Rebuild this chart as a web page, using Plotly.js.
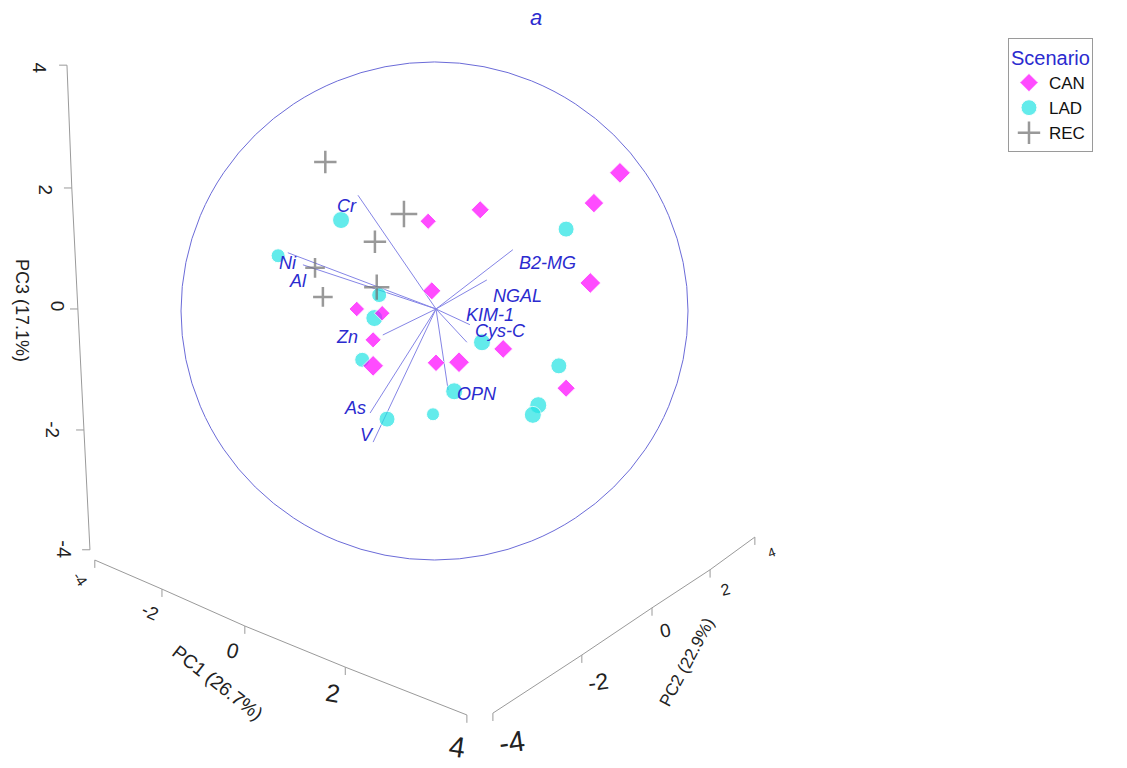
<!DOCTYPE html>
<html><head><meta charset="utf-8">
<script src="https://cdn.plot.ly/plotly-3.0.1.min.js"></script>
<style>html,body{margin:0;padding:0;background:#fff}#chart{width:1127px;height:768px}</style>
</head><body><div id="chart"></div>
<script>
// ---- Data: scores projected onto the viewing plane (1 unit = 1 PC3 unit) ----
const scenarios = ["CAN", "LAD", "REC"];

const canX = [3.04, 2.61, 0.73, -0.13, 2.55, -0.07, -1.31, -0.89, -1.04, -1.04, 0.00, 0.38, 1.11, 2.15];
const canY = [2.25, 1.75, 1.64, 1.45, 0.43, 0.30, 0.00, -0.07, -0.51, -0.94, -0.89, -0.88, -0.66, -1.31];
const canDepth = [16, 15, 14, 12.5, 16, 14, 12, 12, 12.5, 16, 13.5, 16, 14.5, 14];

const ladX = [2.15, -1.57, -2.61, -0.94, -1.02, -1.22, 0.76, 2.03, 0.30, -0.05, 1.69, 1.60, -0.81];
const ladY = [1.32, 1.47, 0.88, 0.23, -0.15, -0.84, -0.55, -0.94, -1.36, -1.74, -1.59, -1.75, -1.82];
const ladDepth = [16, 17, 14, 15, 17, 15, 17, 16, 17, 13, 17, 17, 16];

const recX = [-1.83, -0.53, -1.01, -2.00, -1.87, -0.98];
const recY = [2.43, 1.57, 1.11, 0.68, 0.20, 0.36];
const recDepth = [16, 19, 16, 14, 14, 18];

// Variable loadings (projected end points of the vectors)
const loadNames = ["Cr", "Ni", "Al", "Zn", "As", "V", "OPN", "B2-MG", "NGAL", "KIM-1", "Cys-C"];
const loadX = [-1.29, -2.45, -2.20, -0.88, -1.09, -1.04, 0.20, 1.27, 0.84, 0.56, 0.51];
const loadY = [1.88, 0.93, 0.73, -0.43, -1.72, -2.20, -1.34, 0.98, 0.48, -0.26, -0.55];
const labelX = [-1.47, -2.45, -2.28, -1.47, -1.34, -1.14, 0.68, 1.85, 1.34, 0.89, 1.07];
const labelY = [1.70, 0.76, 0.46, -0.46, -1.64, -2.08, -1.40, 0.76, 0.21, -0.10, -0.37];

// Axis frame (perspective box edges) with tick labels
const tickLabels = ["4", "2", "0", "-2", "-4"];
const pc3X = [-6.10, -6.02, -5.92, -5.82, -5.72];
const pc3Y = [4.03, 2.00, 0.00, -2.00, -3.98];
const pc1Labels = ["-4", "-2", "0", "2", "4"];
const pc1X = [-5.64, -4.53, -3.16, -1.50, 0.51];
const pc1Y = [-4.15, -4.63, -5.24, -5.92, -6.71];
const pc2Labels = ["-4", "-2", "0", "2", "4"];
const pc2X = [0.94, 2.41, 3.57, 4.53, 5.27];
const pc2Y = [-6.68, -5.72, -4.94, -4.31, -3.77];

const pc3LabX = [-6.55, -6.46, -6.26, -6.35, -6.15];
const pc3LabY = [3.98, 1.97, 0.05, -2.00, -3.97];
const pc1LabX = [-5.88, -4.73, -3.36, -1.70, 0.35];
const pc1LabY = [-4.45, -5.01, -5.64, -6.35, -7.24];
const pc2LabX = [1.26, 2.68, 3.79, 4.78, 5.55];
const pc2LabY = [-7.16, -6.17, -5.31, -4.64, -4.03];

// ---- Build traces ----
const blue = "#2b2bcf";
const FONT = "Liberation Sans, Arial, sans-serif";
const frameX = [], frameY = [];
function addAxis(xs, ys, dx, dy) {
  xs.forEach((v, i) => { frameX.push(v); frameY.push(ys[i]); });
  frameX.push(null); frameY.push(null);
  xs.forEach((v, i) => {
    frameX.push(v, v + dx, null);
    frameY.push(ys[i], ys[i] + dy, null);
  });
}
addAxis(pc3X, pc3Y, -0.13, 0);
addAxis(pc1X, pc1Y, 0, -0.13);
addAxis(pc2X, pc2Y, 0, -0.13);

const vecX = [], vecY = [];
loadX.forEach((v, i) => { vecX.push(0, v, null); vecY.push(0, loadY[i], null); });

const traces = [
  {x: frameX, y: frameY, mode: "lines", line: {color: "#9a9a9a", width: 1},
   hoverinfo: "skip", showlegend: false},
  {x: vecX, y: vecY, mode: "lines", line: {color: "#8585e6", width: 1},
   hoverinfo: "skip", showlegend: false},
  {x: ladX, y: ladY, name: scenarios[1], mode: "markers", type: "scatter", legendrank: 2,
   marker: {symbol: "circle", color: "#22e3e3", size: ladDepth}},
  {x: canX, y: canY, name: scenarios[0], mode: "markers", type: "scatter", legendrank: 1,
   marker: {symbol: "diamond", color: "#ff00ff", size: canDepth}},
  {x: recX, y: recY, name: scenarios[2], mode: "markers", type: "scatter", legendrank: 3,
   marker: {symbol: "cross-thin", color: "#6f6f6f", size: recDepth,
            line: {color: "#6f6f6f", width: 2.5}}}
];

const annotations = [];
loadNames.forEach((n, i) => annotations.push({
  x: labelX[i], y: labelY[i], text: n, showarrow: false, xanchor: "center", yanchor: "middle",
  font: {family: FONT, size: 18, color: blue, style: "italic"}
}));
const pc3Sizes = [19, 19, 19, 19, 20];
tickLabels.forEach((t, i) => annotations.push({
  x: pc3LabX[i], y: pc3LabY[i], text: t, showarrow: false, textangle: 90,
  font: {family: FONT, size: pc3Sizes[i], color: "#222"}
}));
const pc1Sizes = [15, 18, 21, 25, 29];
const pc1Angles = [55, 25, 15, 10, 8];
pc1Labels.forEach((t, i) => annotations.push({
  x: pc1LabX[i], y: pc1LabY[i], text: t, showarrow: false, textangle: pc1Angles[i],
  font: {family: FONT, size: pc1Sizes[i], color: "#222"}
}));
const pc2Sizes = [29, 23, 19, 16, 13];
const pc2Angles = [-8, -8, -12, -15, -20];
pc2Labels.forEach((t, i) => annotations.push({
  x: pc2LabX[i], y: pc2LabY[i], text: t, showarrow: false, textangle: pc2Angles[i],
  font: {family: FONT, size: pc2Sizes[i], color: "#222"}
}));
annotations.push({x: -6.84, y: -0.02, text: "PC3 (17.1%)", showarrow: false, textangle: 90,
  font: {family: FONT, size: 18, color: "#222"}});
annotations.push({x: -3.62, y: -6.18, text: "PC1 (26.7%)", showarrow: false, textangle: 38,
  font: {family: FONT, size: 19, color: "#222"}});
annotations.push({x: 4.15, y: -5.85, text: "PC2 (22.9%)", showarrow: false, textangle: -62,
  font: {family: FONT, size: 17, color: "#222"}});

const layout = {
  width: 1127, height: 768,
  margin: {l: 0, r: 0, t: 0, b: 0},
  paper_bgcolor: "#fff", plot_bgcolor: "#fff",
  title: {text: "a", x: 0.4756, y: 0.977, xanchor: "center", yanchor: "middle",
          font: {family: FONT, size: 22, color: blue, style: "italic"}},
  xaxis: {range: [-7.207, 11.421], visible: false, showgrid: false, zeroline: false, fixedrange: true},
  yaxis: {range: [-7.587, 5.107], visible: false, showgrid: false, zeroline: false, fixedrange: true},
  showlegend: true,
  legend: {x: 0.8944, y: 0.9505, xanchor: "left", yanchor: "top",
           bordercolor: "#9a9a9a", borderwidth: 1, bgcolor: "#fff",
           traceorder: "normal", itemwidth: 30, tracegroupgap: 0,
           title: {text: "Scenario", font: {family: FONT, size: 20, color: blue}},
           font: {family: FONT, size: 17, color: "#111"}},
  shapes: [{type: "circle", xref: "x", yref: "y", x0: -4.215, x1: 4.165, y0: -4.149, y1: 4.083,
            line: {color: "#6b6bd8", width: 1}, layer: "below"}],
  annotations: annotations
};

Plotly.newPlot("chart", traces, layout, {displayModeBar: false, staticPlot: true});
</script></body></html>
